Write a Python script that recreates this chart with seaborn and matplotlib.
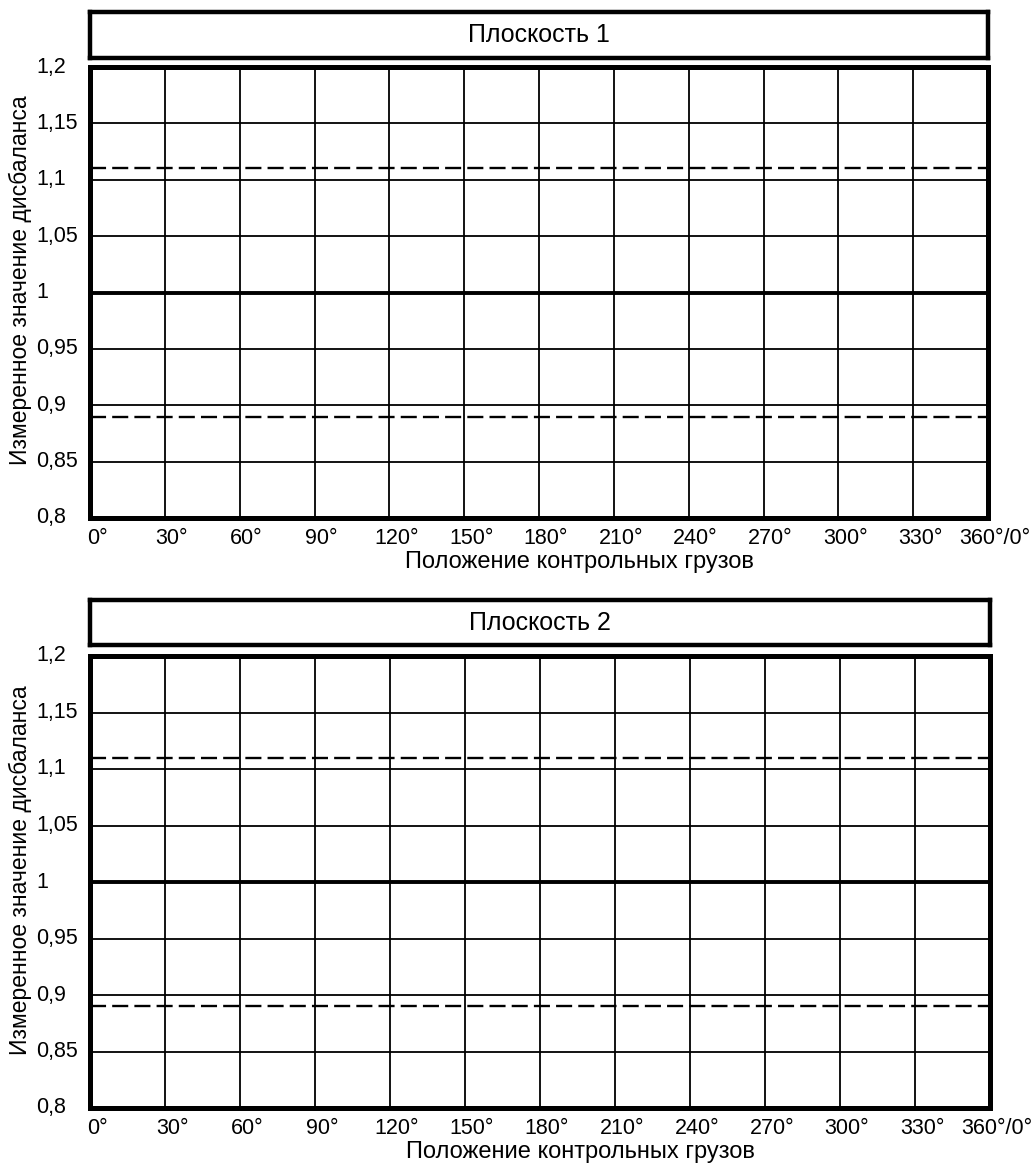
import matplotlib
matplotlib.use("Agg")
import matplotlib.pyplot as plt
import seaborn as sns
import pandas as pd

sns.set_style("white")
plt.rcParams['font.family'] = ['Liberation Sans', 'DejaVu Sans']
plt.rcParams['text.color'] = 'black'

titles = ["Плоскость 1", "Плоскость 2"]
x_ticks = [0, 30, 60, 90, 120, 150, 180, 210, 240, 270, 300, 330, 360]
x_labels = ["0°", "30°", "60°", "90°", "120°", "150°", "180°", "210°", "240°",
            "270°", "300°", "330°", "360°/0°"]
y_ticks = [0.8, 0.85, 0.9, 0.95, 1.0, 1.05, 1.1, 1.15, 1.2]
y_labels = ["0,8", "0,85", "0,9", "0,95", "1", "1,05", "1,1", "1,15", "1,2"]
nominal = 1.0
upper_limit = 1.11
lower_limit = 0.89
x_range = [0, 360]
xlabel = "Положение контрольных грузов"
ylabel = "Измеренное значение дисбаланса"

W, H = 1036, 1164
fig = plt.figure(figsize=(W / 100, H / 100), dpi=100)


def rect(x0, y0, x1, y1):
    return [x0 / W, 1 - y1 / H, (x1 - x0) / W, (y1 - y0) / H]


panels = [
    dict(plot=rect(90, 67, 988, 518), box=rect(90, 12, 988, 58)),
    dict(plot=rect(90, 656, 990, 1108), box=rect(90, 600, 990, 645)),
]

for title, p in zip(titles, panels):
    bax = fig.add_axes(p["box"])
    bax.set_xticks([]); bax.set_yticks([])
    for s in bax.spines.values():
        s.set_linewidth(3.2); s.set_color("black"); s.set_visible(True)
    bax.text(0.5, 0.5, title, ha="center", va="center", fontsize=18,
             color="black", transform=bax.transAxes)

    ax = fig.add_axes(p["plot"])
    df_nom = pd.DataFrame({"x": x_range, "y": [nominal, nominal]})
    df_up = pd.DataFrame({"x": x_range, "y": [upper_limit, upper_limit]})
    df_lo = pd.DataFrame({"x": x_range, "y": [lower_limit, lower_limit]})
    sns.lineplot(data=df_nom, x="x", y="y", ax=ax, color="black", lw=2.8, zorder=3)
    sns.lineplot(data=df_up, x="x", y="y", ax=ax, color="black", lw=1.7, zorder=3,
                 linestyle=(0, (6.8, 2.6)))
    sns.lineplot(data=df_lo, x="x", y="y", ax=ax, color="black", lw=1.7, zorder=3,
                 linestyle=(0, (6.8, 2.6)))
    ax.set_xlim(0, 360)
    ax.set_ylim(0.8, 1.2)
    ax.set_xticks(x_ticks)
    ax.set_yticks(y_ticks)
    ax.set_xticklabels([])
    ax.set_yticklabels([])
    ax.grid(True, color="black", lw=1.3)
    ax.tick_params(length=0)
    for s in ax.spines.values():
        s.set_linewidth(3.6); s.set_color("black"); s.set_visible(True)
    ax.set_xlabel(""); ax.set_ylabel("")
    for xv, lab in zip(x_ticks, x_labels):
        ax.annotate(lab, xy=(xv, 0.8), xycoords="data", xytext=(7, -20),
                    textcoords="offset pixels", ha="center", va="center",
                    fontsize=15.5, color="black")
    for yv, lab in zip(y_ticks, y_labels):
        ax.annotate(lab, xy=(0, yv), xycoords="data", xytext=(-54, 0),
                    textcoords="offset pixels", ha="left", va="center",
                    fontsize=15.5, color="black")
    ax.annotate(xlabel, xy=(0.545, 0), xycoords="axes fraction", xytext=(0, -44),
                textcoords="offset pixels", ha="center", va="center",
                fontsize=17, color="black")
    ax.annotate(ylabel, xy=(0, 0.5), xycoords="axes fraction", xytext=(-70, 12),
                textcoords="offset pixels", ha="center", va="center",
                rotation=90, fontsize=16.5, color="black")

fig.savefig("out.png", dpi=100)
